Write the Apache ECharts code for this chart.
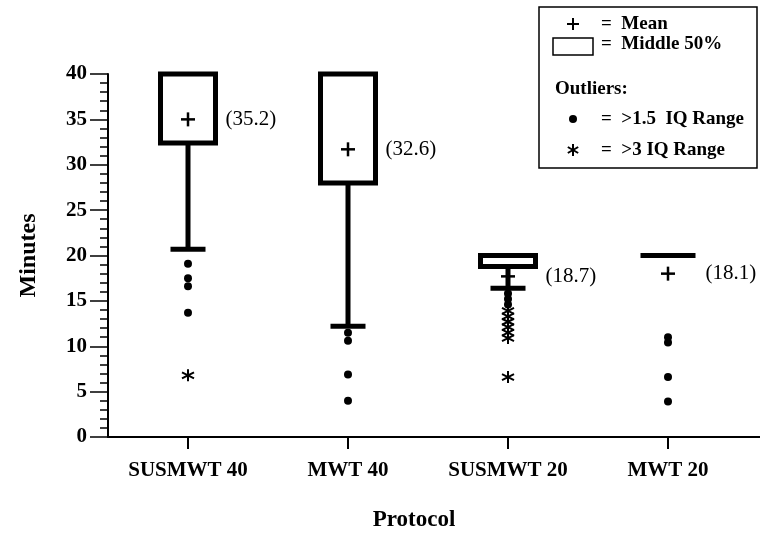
<!DOCTYPE html>
<html>
<head>
<meta charset="utf-8">
<script src="https://cdn.jsdelivr.net/npm/echarts@6/dist/echarts.min.js"></script>
<style>html,body{margin:0;padding:0;background:#fff}#c{width:760px;height:534px}</style>
</head>
<body>
<div id="c"></div>
<script>
const categories = ['SUSMWT 40', 'MWT 40', 'SUSMWT 20', 'MWT 20'];
const q1 = [32.4, 28.0, 18.8, 20];
const q3 = [40, 40, 20, 20];
const whiskerLow = [20.7, 12.2, 16.4, 20];
const meanMark = [35.0, 31.7, 17.7, 18.0];
const meanLabels = ['(35.2)', '(32.6)', '(18.7)', '(18.1)'];
const dotOutliers = [
  [19.1, 17.5, 16.6, 13.7],
  [11.5, 10.6, 6.9, 4.0],
  [15.8, 15.2, 14.6],
  [11.0, 10.4, 6.6, 3.9]
];
const starOutliers = [
  [6.8],
  [],
  [13.9, 13.3, 12.7, 12.1, 11.5, 10.9, 6.6],
  []
];
const yTicks = [0, 5, 10, 15, 20, 25, 30, 35, 40];

const SERIF = '"Liberation Serif", "DejaVu Serif", serif';
const STAR = 'path://M6,0L6,12M0.8,3L11.2,9M0.8,9L11.2,3';

const boxData = categories.map((c, i) => [i, q1[i], q3[i], whiskerLow[i], meanMark[i]]);
const dotData = [];
dotOutliers.forEach((arr, i) => arr.forEach(v => dotData.push([i, v])));
const starData = [];
starOutliers.forEach((arr, i) => arr.forEach(v => starData.push([i, v])));

function renderBox(params, api) {
  const i = api.value(0);
  const pQ1 = api.coord([i, api.value(1)]);
  const pQ3 = api.coord([i, api.value(2)]);
  const pLow = api.coord([i, api.value(3)]);
  const pMean = api.coord([i, api.value(4)]);
  const cx = pQ1[0];
  const hw = 27.5;
  const children = [];
  if (pLow[1] > pQ1[1] + 1) {
    children.push({type: 'line', shape: {x1: cx, y1: pQ1[1], x2: cx, y2: pLow[1]},
      style: {stroke: '#000', lineWidth: 5}});
    children.push({type: 'line', shape: {x1: cx - 17.5, y1: pLow[1], x2: cx + 17.5, y2: pLow[1]},
      style: {stroke: '#000', lineWidth: 5}});
  }
  children.push({type: 'rect', shape: {x: cx - hw, y: pQ3[1], width: hw * 2, height: pQ1[1] - pQ3[1]},
    style: {fill: 'none', stroke: '#000', lineWidth: 5}});
  children.push({type: 'line', shape: {x1: cx - 7, y1: pMean[1], x2: cx + 7, y2: pMean[1]},
    style: {stroke: '#000', lineWidth: 2.5}});
  children.push({type: 'line', shape: {x1: cx, y1: pMean[1] - 7, x2: cx, y2: pMean[1] + 7},
    style: {stroke: '#000', lineWidth: 2.5}});
  children.push({type: 'text', x: cx + hw + 10, y: pMean[1],
    style: {text: meanLabels[params.dataIndex], font: '21px ' + SERIF, fill: '#000',
      verticalAlign: 'middle', align: 'left'}});
  return {type: 'group', children: children};
}

function lg(x1, y1, x2, y2, w) {
  return {type: 'line', shape: {x1: x1, y1: y1, x2: x2, y2: y2}, style: {stroke: '#000', lineWidth: w}, z: 11};
}
function lgText(x, y, t) {
  return {type: 'text', x: x, y: y, style: {text: t, font: 'bold 19px ' + SERIF, fill: '#000', align: 'left', verticalAlign: 'middle'}, z: 11};
}

const chart = echarts.init(document.getElementById('c'), null, {renderer: 'canvas'});
chart.setOption({
  backgroundColor: '#fff',
  animation: false,
  grid: {left: 108, right: 0, top: 74, bottom: 97, containLabel: false, outerBoundsMode: 'none'},
  xAxis: {
    type: 'value', min: -0.5, max: 3.575,
    name: 'Protocol', nameLocation: 'middle', nameGap: 72,
    nameTextStyle: {fontFamily: SERIF, fontWeight: 'bold', fontSize: 23, color: '#000', padding: [0, 40, 0, 0]},
    axisLine: {onZero: false, lineStyle: {color: '#000', width: 2}},
    axisTick: {show: true, length: 12, lineStyle: {color: '#000', width: 2}, customValues: [0, 1, 2, 3]},
    axisLabel: {customValues: [0, 1, 2, 3], margin: 23, fontFamily: SERIF, fontWeight: 'bold', fontSize: 21, color: '#000',
      formatter: v => categories[Math.round(v)] || ''},
    splitLine: {show: false}
  },
  yAxis: {
    type: 'value', min: 0, max: 40, interval: 5,
    name: 'Minutes', nameLocation: 'middle', nameGap: 67, nameRotate: 90,
    nameTextStyle: {fontFamily: SERIF, fontWeight: 'bold', fontSize: 24, color: '#000'},
    axisLine: {show: true, onZero: false, lineStyle: {color: '#000', width: 2}},
    axisTick: {show: true, length: 18, lineStyle: {color: '#000', width: 1.5}},
    minorTick: {show: true, splitNumber: 5, length: 8, lineStyle: {color: '#000', width: 1.5}},
    axisLabel: {margin: 21, fontFamily: SERIF, fontWeight: 'bold', fontSize: 21, color: '#000',
      formatter: v => (yTicks.indexOf(v) >= 0 ? String(v) : '')},
    splitLine: {show: false}
  },
  series: [
    {type: 'custom', renderItem: renderBox, data: boxData, encode: {x: 0, y: [1, 2, 3, 4]}, z: 2},
    {type: 'scatter', data: dotData, symbol: 'circle', symbolSize: 8, itemStyle: {color: '#000', opacity: 1}, z: 3},
    {type: 'scatter', data: starData, symbol: STAR, symbolSize: 12,
      itemStyle: {color: 'transparent', borderColor: '#000', borderWidth: 2, opacity: 1}, z: 3}
  ],
  graphic: [
    {type: 'rect', shape: {x: 539, y: 7, width: 218, height: 161}, style: {fill: '#fff', stroke: '#000', lineWidth: 1.5}, z: 10},
    lg(567, 24, 579, 24, 2), lg(573, 18, 573, 30, 2),
    lgText(601, 24, '=  Mean'),
    {type: 'rect', shape: {x: 553, y: 38, width: 40, height: 17}, style: {fill: '#fff', stroke: '#000', lineWidth: 1.5}, z: 11},
    lgText(601, 44, '=  Middle 50%'),
    lgText(555, 89, 'Outliers:'),
    {type: 'circle', shape: {cx: 573, cy: 119, r: 4}, style: {fill: '#000'}, z: 11},
    lgText(601, 119, '=  >1.5  IQ Range'),
    lg(573, 144, 573, 156, 2), lg(567.8, 147, 578.2, 153, 2), lg(567.8, 153, 578.2, 147, 2),
    lgText(601, 150, '=  >3 IQ Range')
  ]
});
</script>
</body>
</html>
